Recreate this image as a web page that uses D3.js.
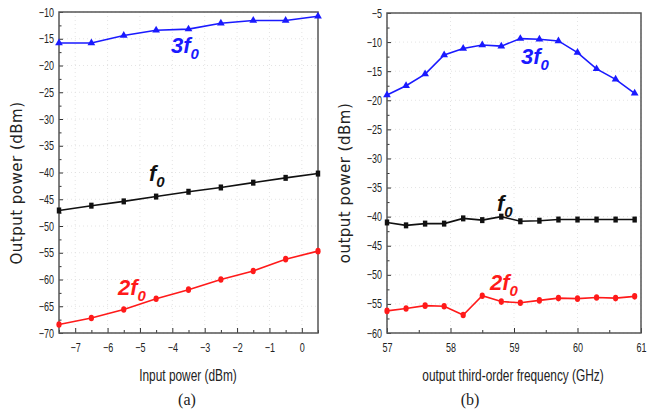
<!DOCTYPE html>
<html>
<head>
<meta charset="utf-8">
<script src="https://cdn.jsdelivr.net/npm/d3@7"></script>
<style>
  body { margin: 0; background: #fff; }
  .tick text { font-family: "Liberation Sans", Arial, sans-serif; font-size: 12.5px; fill: #222; }
</style>
</head>
<body>
<script>
// panel (a): output power vs input power
const inPower = [-7.5, -6.5, -5.5, -4.5, -3.5, -2.5, -1.5, -0.5, 0.5]
const aThird = [-15.8, -15.8, -14.4, -13.4, -13.2, -12.1, -11.6, -11.6, -10.8]
const aFund = [-47.1, -46.2, -45.4, -44.5, -43.6, -42.8, -41.9, -41.0, -40.2]
const aSecond = [-68.4, -67.2, -65.6, -63.6, -61.9, -60.0, -58.4, -56.2, -54.7]
const aXTicks = [-7, -6, -5, -4, -3, -2, -1, 0]
const aYTicks = [-70, -65, -60, -55, -50, -45, -40, -35, -30, -25, -20, -15, -10]

// panel (b): output power vs third-order frequency
const freq = [57.0, 57.3, 57.6, 57.9, 58.2, 58.5, 58.8, 59.1, 59.4, 59.7, 60.0, 60.3, 60.6, 60.9]
const bThird = [-19.1, -17.5, -15.5, -12.2, -11.1, -10.5, -10.7, -9.4, -9.5, -9.8, -11.8, -14.6, -16.4, -18.8]
const bFund = [-41.0, -41.5, -41.2, -41.2, -40.3, -40.6, -40.0, -40.8, -40.7, -40.5, -40.5, -40.5, -40.5, -40.5]
const bSecond = [-56.2, -55.8, -55.3, -55.4, -56.9, -53.6, -54.6, -54.8, -54.4, -54.0, -54.1, -53.9, -54.0, -53.7]
const bXTicks = [57, 58, 59, 60, 61]
const bYTicks = [-60, -55, -50, -45, -40, -35, -30, -25, -20, -15, -10, -5]

const width = 655
const height = 419

const svg = d3.select('body').append('svg')
  .attr('width', width).attr('height', height)

const blue = '#1a1aff'
const red = '#ff1a1a'
const black = '#111'
const narrow = 0.72

function drawPanel(opt) {
  const x = d3.scaleLinear().domain(opt.xDomain).range([opt.left, opt.right])
  const y = d3.scaleLinear().domain(opt.yDomain).range([opt.bottom, opt.top])
  const g = svg.append('g')

  // faint dotted grid
  g.selectAll('.hgrid').data(opt.yTicks).enter().append('line')
    .attr('x1', opt.left).attr('x2', opt.right)
    .attr('y1', d => y(d)).attr('y2', d => y(d))
    .attr('stroke', '#ddd').attr('stroke-width', 0.8).attr('stroke-dasharray', '1,3')
  g.selectAll('.vgrid').data(opt.xTicks).enter().append('line')
    .attr('x1', d => x(d)).attr('x2', d => x(d))
    .attr('y1', opt.top).attr('y2', opt.bottom)
    .attr('stroke', '#ddd').attr('stroke-width', 0.8).attr('stroke-dasharray', '1,3')

  // axes, ticks inward
  const xAxis = d3.axisBottom(x).tickValues(opt.xTicks).tickSize(-5).tickPadding(10)
    .tickFormat(d3.format('d'))
  const xMinor = d3.axisBottom(x).tickValues(opt.xMinor).tickSize(-3).tickFormat('')
  const yAxis = d3.axisLeft(y).tickValues(opt.yTicks).tickSize(-4).tickPadding(7)
    .tickFormat(d3.format('d'))
  const yMinor = d3.axisLeft(y).tickValues(opt.yMinor).tickSize(-2.5).tickFormat('')

  for (const [ax, tr] of [[xAxis, `translate(0,${opt.bottom})`], [xMinor, `translate(0,${opt.bottom})`],
                          [yAxis, `translate(${opt.left},0)`], [yMinor, `translate(${opt.left},0)`]]) {
    const a = g.append('g').attr('transform', tr).call(ax)
    a.select('.domain').remove()
    a.selectAll('line').attr('stroke', '#333')
    a.selectAll('text').attr('transform', `scale(${narrow},1)`)
  }

  // frame
  g.append('rect')
    .attr('x', opt.left).attr('y', opt.top)
    .attr('width', opt.right - opt.left).attr('height', opt.bottom - opt.top)
    .attr('fill', 'none').attr('stroke', '#555').attr('stroke-width', 1.5)

  const line = d3.line().x(d => x(d[0])).y(d => y(d[1]))

  opt.series.forEach(s => {
    const pts = opt.xs.map((v, i) => [v, s.values[i]])
    g.append('path').datum(pts).attr('d', line)
      .attr('fill', 'none').attr('stroke', s.color).attr('stroke-width', 1.6)
    const m = g.selectAll(null).data(pts).enter()
    if (s.marker === 'tri') {
      m.append('path')
        .attr('d', d3.symbol(d3.symbolTriangle, 26))
        .attr('transform', d => `translate(${x(d[0])},${y(d[1])})`)
        .attr('fill', s.color)
    } else if (s.marker === 'sq') {
      m.append('rect')
        .attr('x', d => x(d[0]) - 2.2).attr('y', d => y(d[1]) - 3)
        .attr('width', 4.4).attr('height', 6).attr('fill', s.color)
    } else {
      m.append('ellipse')
        .attr('cx', d => x(d[0])).attr('cy', d => y(d[1]))
        .attr('rx', 2.6).attr('ry', 3.3).attr('fill', s.color)
    }
  })

  // curve labels
  opt.labels.forEach(l => {
    const t = g.append('text')
      .attr('x', l.x).attr('y', l.y)
      .attr('fill', l.color)
      .style('font-family', 'Liberation Sans, Arial, sans-serif')
      .style('font-weight', 'bold').style('font-style', 'italic')
      .style('font-size', '22px')
    t.append('tspan').text(l.main)
    t.append('tspan').text('0').attr('dy', 6).style('font-size', '15px')
  })

  // axis titles
  g.append('text')
    .attr('transform', `translate(${opt.yLabelX},183) rotate(-90)`)
    .attr('text-anchor', 'middle')
    .style('font-family', 'DejaVu Sans, Verdana, sans-serif')
    .style('font-size', '15px').style('letter-spacing', '0.5px').attr('fill', '#222')
    .text(opt.yLabel)
  g.append('text')
    .attr('transform', `translate(${opt.xLabelX},381) scale(${narrow},1)`)
    .attr('text-anchor', 'middle')
    .style('font-family', '"Liberation Sans", Arial, sans-serif')
    .style('font-size', '16.5px').attr('fill', '#222')
    .text(opt.xLabel)
  g.append('text')
    .attr('x', opt.capX).attr('y', 405)
    .attr('text-anchor', 'middle')
    .style('font-family', '"Liberation Serif", "Times New Roman", serif')
    .style('font-size', '16px').attr('fill', '#222')
    .text(opt.caption)
}

drawPanel({
  left: 59, right: 318, top: 12, bottom: 333,
  xDomain: [-7.5, 0.5], yDomain: [-70, -10],
  xTicks: aXTicks, yTicks: aYTicks,
  xMinor: d3.range(-7.5, 0.6, 1), yMinor: d3.range(-67.5, -10, 5),
  xs: inPower,
  series: [
    { values: aThird, color: blue, marker: 'tri' },
    { values: aFund, color: black, marker: 'sq' },
    { values: aSecond, color: red, marker: 'dot' }
  ],
  labels: [
    { main: '3f', x: 171, y: 53, color: blue },
    { main: 'f', x: 149, y: 181, color: black },
    { main: '2f', x: 118, y: 295, color: red }
  ],
  yLabel: 'Output power (dBm)', yLabelX: 22,
  xLabel: 'Input power (dBm)', xLabelX: 188,
  caption: '(a)', capX: 187
})

drawPanel({
  left: 387, right: 641, top: 13, bottom: 333,
  xDomain: [57, 61], yDomain: [-60, -5],
  xTicks: bXTicks, yTicks: bYTicks,
  xMinor: [57.5, 58.5, 59.5, 60.5], yMinor: d3.range(-57.5, -5, 5),
  xs: freq,
  series: [
    { values: bThird, color: blue, marker: 'tri' },
    { values: bFund, color: black, marker: 'sq' },
    { values: bSecond, color: red, marker: 'dot' }
  ],
  labels: [
    { main: '3f', x: 521, y: 64, color: blue },
    { main: 'f', x: 497, y: 211, color: black },
    { main: '2f', x: 490, y: 290, color: red }
  ],
  yLabel: 'output power (dBm)', yLabelX: 350,
  xLabel: 'output third-order frequency (GHz)', xLabelX: 513,
  caption: '(b)', capX: 470
})
</script>
</body>
</html>
